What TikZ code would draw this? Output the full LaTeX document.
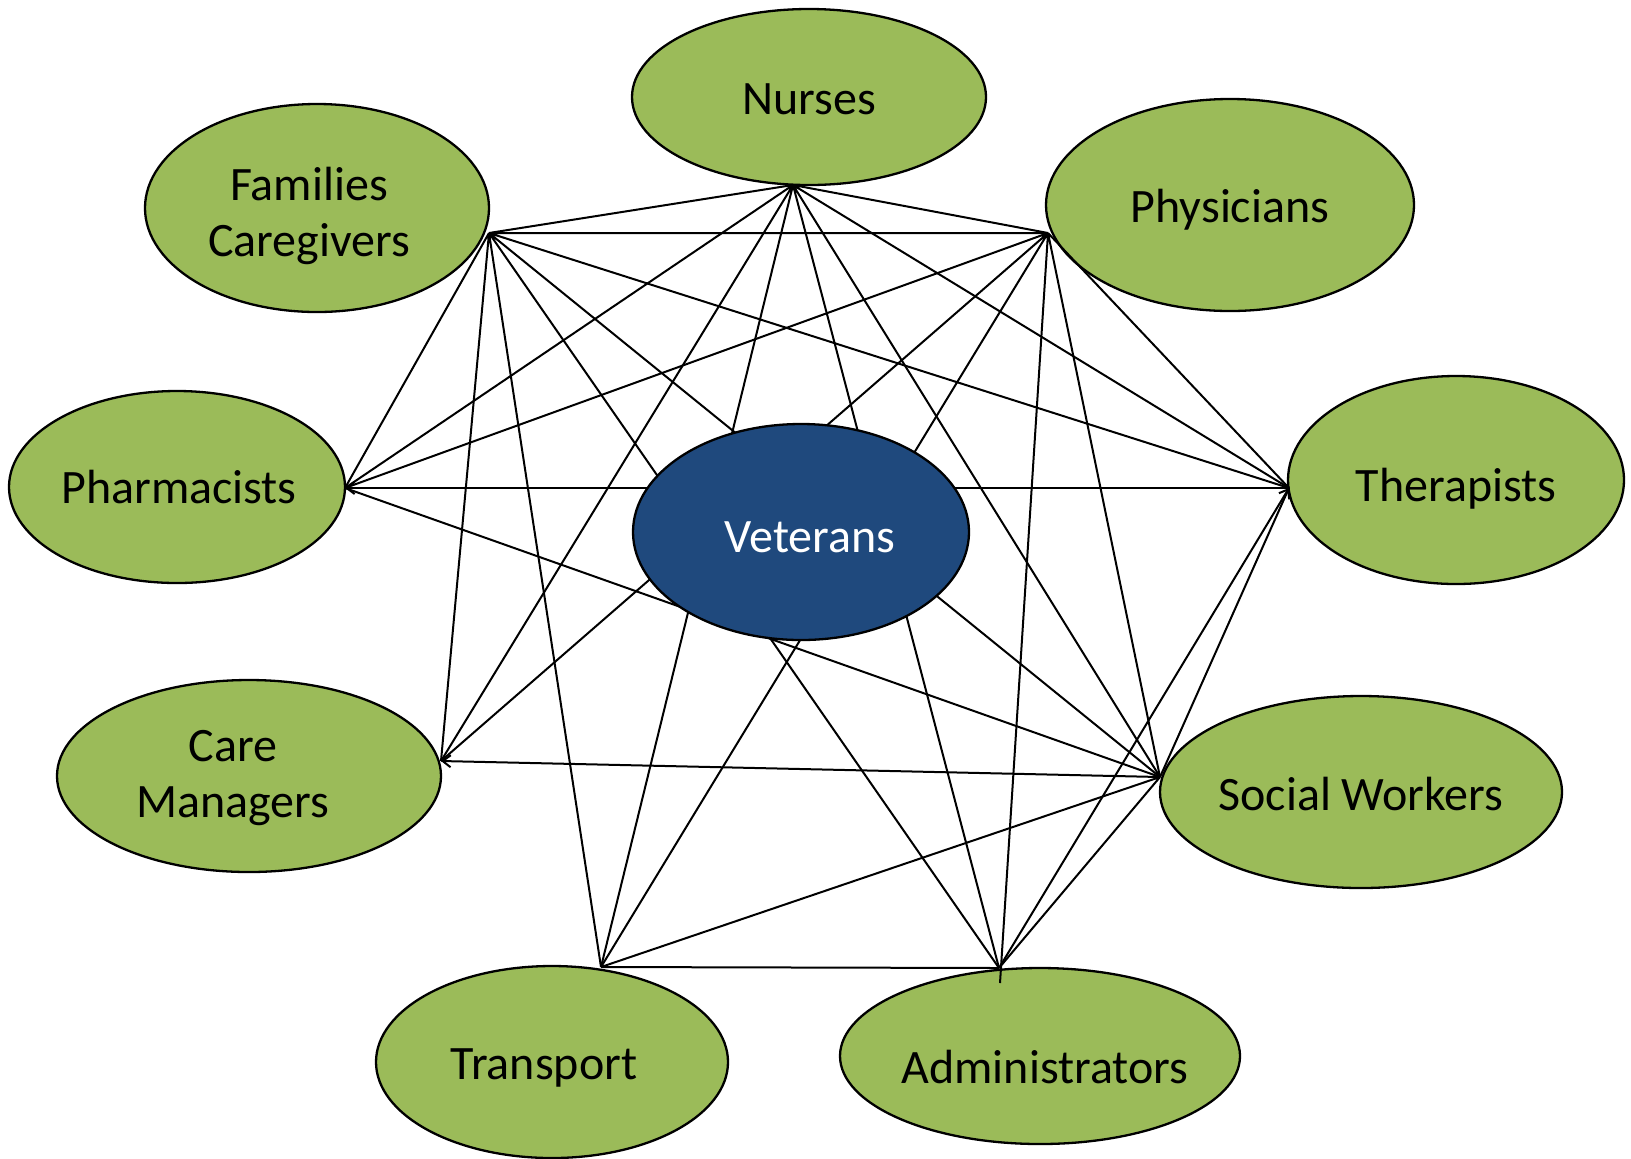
\documentclass[tikz,border=0pt]{standalone}
\usepackage{fontspec}
\setmainfont{Carlito}
\usetikzlibrary{shapes.geometric, arrows.meta}

\definecolor{olivegreen}{RGB}{155,187,89}
\definecolor{navyblue}{RGB}{31,73,125}

\begin{document}
\begin{tikzpicture}[x=0.5pt, y=-0.5pt,
    group/.style={ellipse, draw, line width=1.15pt, fill=olivegreen, inner sep=0pt},
    label/.style={font=\fontsize{24}{28}\selectfont, align=center},
    link/.style={line width=1pt},
    tip/.style={-{Straight Barb[length=4pt, width=6pt]}}]
    \useasboundingbox (0, 0) rectangle (1631, 1158);

    \node [group, minimum width=177pt, minimum height=88pt] (nurses) at (809, 97) {};
    \node [group, minimum width=172pt, minimum height=104pt] (families) at (317, 208) {};
    \node [group, minimum width=184pt, minimum height=106pt] (physicians) at (1230, 205) {};
    \node [group, minimum width=168pt, minimum height=96pt] (pharmacists) at (177, 487) {};
    \node [group, minimum width=168pt, minimum height=104pt] (therapists) at (1456, 480) {};
    \node [group, minimum width=192pt, minimum height=96pt] (managers) at (249, 776) {};
    \node [group, minimum width=201pt, minimum height=96pt] (workers) at (1361, 792) {};
    \node [group, minimum width=176pt, minimum height=96pt] (transport) at (552, 1062) {};
    \node [group, minimum width=200pt, minimum height=88pt] (admins) at (1040, 1056) {};

    \node [label] (nursesText) at (809, 99) {Nurses};
    \node [label] (familiesText) at (309, 216) {Families\\Caregivers};
    \node [label] (physiciansText) at (1230, 210) {Physicians};
    \node [label] (pharmacistsText) at (179, 487) {Pharmacists};
    \node [label] (therapistsText) at (1456, 489) {Therapists};
    \node [label] (managersText) at (233, 778) {Care\\Managers};
    \node [label] (workersText) at (1361, 794) {Social Workers};
    \node [label] (transportText) at (544, 1068) {Transport};
    \node [label] (adminsText) at (1045, 1067) {Administrators};

    \coordinate (nursesHub) at (793, 185);
    \coordinate (familiesHub) at (489, 233);
    \coordinate (physiciansHub) at (1048, 233);
    \coordinate (pharmacistsHub) at (345, 488);
    \coordinate (therapistsHub) at (1289, 488);
    \coordinate (managersHub) at (441, 761);
    \coordinate (workersHub) at (1160, 777);
    \coordinate (transportHub) at (601, 967);
    \coordinate (adminsHub) at (999, 968);
    \coordinate (adminsEnd) at (1000, 983);

    \draw [link] (nursesHub) -- (familiesHub) (nursesHub) -- (physiciansHub)
        (nursesHub) -- (pharmacistsHub) (nursesHub) -- (therapistsHub)
        (nursesHub) -- (managersHub) (nursesHub) -- (workersHub)
        (nursesHub) -- (transportHub) (nursesHub) -- (adminsHub);
    \draw [link] (familiesHub) -- (physiciansHub) (familiesHub) -- (pharmacistsHub)
        (familiesHub) -- (therapistsHub) (familiesHub) -- (managersHub)
        (familiesHub) -- (workersHub) (familiesHub) -- (transportHub)
        (familiesHub) -- (adminsHub);
    \draw [link] (physiciansHub) -- (pharmacistsHub) (physiciansHub) -- (therapistsHub)
        (physiciansHub) -- (managersHub) (physiciansHub) -- (workersHub)
        (physiciansHub) -- (transportHub) (physiciansHub) -- (adminsEnd);
    \draw [link] (pharmacistsHub) -- (workersHub);
    \draw [link] (therapistsHub) -- (workersHub);
    \draw [link] (workersHub) -- (transportHub) (workersHub) -- (adminsHub);
    \draw [link] (transportHub) -- (adminsHub);
    \draw [link, tip] (therapistsHub) -- (pharmacistsHub);
    \draw [link, tip] (workersHub) -- (managersHub);
    \draw [link, tip] (adminsHub) -- (therapistsHub);

    \node [group, fill=navyblue, minimum width=168pt, minimum height=108pt] (veterans) at (801, 532) {};
    \node [label, text=white] (veteransText) at (810, 537) {Veterans};
\end{tikzpicture}
\end{document}
